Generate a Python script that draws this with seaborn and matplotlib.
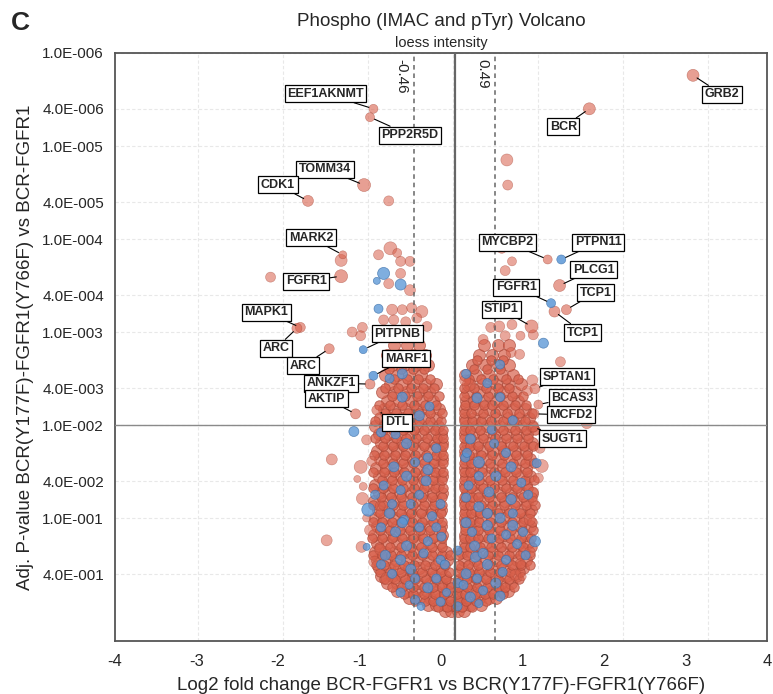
import numpy as np
import pandas as pd
import seaborn as sns
import matplotlib.pyplot as plt

# colours
RED = '#D8604B'
RED_EDGE = '#A84636'
BLUE = '#5B97D6'
BLUE_EDGE = '#3C70AA'

# ---------------- data (log2 fold change, -log10 adj. p) ----------------
# labelled sites
gene_names = ['GRB2', 'BCR', 'EEF1AKNMT', 'PPP2R5D', 'TOMM34', 'CDK1', 'MARK2',
              'FGFR1', 'MAPK1', 'ARC', 'ARC', 'PITPNB', 'MARF1', 'ANKZF1', 'AKTIP',
              'DTL', 'MYCBP2', 'PTPN11', 'PLCG1', 'FGFR1', 'TCP1', 'TCP1', 'STIP1',
              'SPTAN1', 'BCAS3', 'MCFD2', 'SUGT1']
gene_fc = [2.82, 1.60, -0.94, -0.98, -1.05, -1.71, -1.30, -1.32, -1.80, -1.84,
           -1.46, -1.06, -0.94, -0.98, -1.15, -0.90, 1.11, 1.27, 1.25, 1.15, 1.33,
           1.19, 0.92, 0.96, 1.00, 0.95, 0.94]
gene_nlp = [5.76, 5.40, 5.40, 5.31, 4.58, 4.41, 3.83, 3.60, 3.05, 3.04, 2.82,
            2.81, 2.53, 2.44, 2.12, 2.16, 3.78, 3.78, 3.50, 3.31, 3.24, 3.22, 3.06,
            2.39, 2.22, 2.12, 1.98]
gene_group = ['red', 'red', 'red', 'red', 'red', 'red', 'red', 'red', 'red', 'red',
              'red', 'blue', 'blue', 'red', 'red', 'red', 'red', 'blue', 'red', 'blue',
              'red', 'red', 'red', 'red', 'red', 'red', 'red']
gene_diam = [12, 12, 9, 9, 13, 11, 8, 13, 10, 10, 10, 8, 9, 10, 10, 10, 9, 9, 12, 9,
             10, 11, 13, 10, 9, 10, 10]
# label box offsets (px, y down)
label_dx = [29, -26, -48, 40, -39, -30, -32, -35, -34, -21, -26, 34, 33, -39, -29,
            20, -40, 37, 34, -35, 29, 28, -30, 32, 34, 37, 29]
label_dy = [19, 18, -15, 18, -16, -16, -17, 5, -15, 20, 17, -16, -17, -1, -15, 12,
            -17, -17, -16, -16, -17, 21, -17, -12, -7, 1, 12]

# unlabelled isolated sites (light)
out_fc = [-0.76, 0.63, 0.64, -1.32, -2.15, -0.88, -0.74, -0.62, -0.51, -0.66, -0.76,
          -0.62, -0.51, -0.72, -0.60, -0.49, -0.37, -0.82, -0.70, -0.56, -0.43, -0.31,
          -1.07, -1.19, -1.09, 0.57, 0.69, 0.61, 0.44, 0.54, 0.69, 0.79, 0.35, 0.61,
          0.68, 0.78, 0.94, 1.26, 0.93, 0.87, 1.57, 0.18, 0.14, -1.43, -1.09, -0.96,
          -1.13, -1.06, -1.07, -0.86, -1.02, -0.98, -1.49, -1.08, -0.93, -0.78, -1.02,
          1.04, 1.00, 0.94, 0.94, 0.90, 0.90, 0.79, 0.73, 0.81, 1.02, -0.86]
out_nlp = [4.41, 4.85, 4.58, 3.77, 3.59, 3.83, 3.90, 3.76, 3.76, 3.85, 3.52,
           3.63, 3.45, 3.24, 3.24, 3.26, 3.22, 3.13, 3.13, 3.11, 3.15, 3.06,
           3.05, 3.00, 2.96, 3.90, 3.76, 3.66, 3.05, 3.06, 3.08, 2.96, 2.92, 2.96,
           2.78, 2.76, 2.97, 2.68, 2.48, 2.37, 2.02, 2.43, 2.48, 1.63, 1.55, 1.61,
           1.42, 1.34, 1.21, 1.13, 1.00, 0.87, 0.76, 0.69, 0.53, 0.35, 1.84,
           1.56, 1.43, 1.28, 1.18, 0.98, 0.63, 0.51, 0.39, 0.37, 1.75, 0.66]
out_diam = [10, 12, 10, 12, 10, 10, 13, 10, 10, 9, 10, 10, 11, 11, 10, 10, 12, 10,
            10, 10, 10, 10, 10, 10, 10, 10, 9, 10, 10, 11, 10, 9, 10, 10, 10, 10,
            10, 10, 11, 10, 11, 13, 11, 11, 13, 10, 7, 8, 12, 10, 8, 11, 11, 11, 11,
            12, 10, 13, 10, 10, 9, 11, 11, 10, 11, 8, 10, 11]

# dense volcano body, one row per -log10 p level (larger sites)
cloud_nlp = [0.00, 0.07, 0.14, 0.22, 0.30, 0.38, 0.46, 0.55, 0.64, 0.73, 0.82,
             0.91, 1.00, 1.09, 1.18, 1.27, 1.36, 1.45, 1.54, 1.63, 1.72, 1.81,
             1.90, 1.99, 2.08, 2.17, 2.26, 2.35, 2.44, 2.54, 2.64, 2.75, 2.86]
cloud_fc = [
    [-0.10, -0.03, 0.06, 0.13],
    [-0.30, -0.20, -0.10, 0.00, 0.10, 0.20, 0.32],
    [-0.52, -0.40, -0.28, -0.16, -0.06, 0.08, 0.18, 0.30, 0.42, 0.50],
    [-0.66, -0.55, -0.43, -0.31, -0.20, -0.08, 0.10, 0.21, 0.33, 0.45, 0.57, 0.64],
    [-0.78, -0.66, -0.53, -0.41, -0.28, -0.15, -0.05, 0.09, 0.20, 0.31, 0.44, 0.56, 0.68],
    [-0.85, -0.72, -0.60, -0.47, -0.34, -0.22, -0.10, 0.12, 0.24, 0.37, 0.50, 0.62, 0.74],
    [-0.88, -0.76, -0.64, -0.52, -0.40, -0.27, -0.13, 0.10, 0.22, 0.34, 0.47, 0.60, 0.72, 0.82],
    [-0.90, -0.79, -0.67, -0.55, -0.43, -0.30, -0.17, -0.07, 0.12, 0.25, 0.38, 0.50, 0.63, 0.75, 0.86],
    [-0.92, -0.80, -0.69, -0.57, -0.45, -0.33, -0.20, -0.09, 0.10, 0.21, 0.34, 0.46, 0.58, 0.70, 0.83],
    [-0.90, -0.78, -0.66, -0.54, -0.41, -0.29, -0.16, 0.14, 0.25, 0.38, 0.51, 0.64, 0.77, 0.88],
    [-0.93, -0.82, -0.70, -0.58, -0.46, -0.34, -0.22, -0.13, 0.14, 0.24, 0.35, 0.47, 0.60, 0.72, 0.85],
    [-0.90, -0.78, -0.66, -0.53, -0.40, -0.27, -0.15, 0.15, 0.26, 0.40, 0.53, 0.66, 0.79, 0.90],
    [-0.92, -0.81, -0.69, -0.57, -0.45, -0.32, -0.19, 0.14, 0.22, 0.33, 0.46, 0.59, 0.72, 0.84],
    [-0.89, -0.77, -0.64, -0.51, -0.38, -0.25, -0.14, 0.15, 0.27, 0.40, 0.53, 0.67, 0.80, 0.91],
    [-0.93, -0.82, -0.70, -0.58, -0.45, -0.32, -0.20, 0.14, 0.24, 0.35, 0.48, 0.61, 0.74, 0.87],
    [-0.88, -0.76, -0.63, -0.50, -0.37, -0.24, -0.13, 0.16, 0.28, 0.41, 0.55, 0.68, 0.81, 0.92],
    [-0.92, -0.80, -0.68, -0.56, -0.43, -0.30, -0.18, 0.14, 0.23, 0.34, 0.47, 0.60, 0.73, 0.86],
    [-0.87, -0.74, -0.61, -0.49, -0.36, -0.23, -0.13, 0.15, 0.27, 0.41, 0.54, 0.67, 0.80, 0.90],
    [-0.91, -0.79, -0.67, -0.55, -0.42, -0.29, -0.17, 0.14, 0.22, 0.33, 0.46, 0.59, 0.72, 0.85],
    [-0.86, -0.73, -0.60, -0.48, -0.35, -0.22, -0.13, 0.15, 0.26, 0.39, 0.52, 0.66, 0.79, 0.90],
    [-0.90, -0.78, -0.66, -0.54, -0.41, -0.28, -0.16, 0.14, 0.23, 0.34, 0.47, 0.60, 0.73, 0.85],
    [-0.85, -0.72, -0.60, -0.47, -0.34, -0.22, -0.13, 0.16, 0.28, 0.42, 0.55, 0.68, 0.80, 0.92],
    [-0.88, -0.76, -0.63, -0.50, -0.38, -0.25, -0.14, 0.14, 0.23, 0.35, 0.48, 0.62, 0.75, 0.87],
    [-0.92, -0.80, -0.67, -0.55, -0.43, -0.30, -0.18, 0.15, 0.27, 0.40, 0.54, 0.67, 0.80, 0.92],
    [-0.86, -0.74, -0.60, -0.47, -0.34, -0.20, 0.14, 0.24, 0.36, 0.50, 0.64, 0.77, 0.89],
    [-0.82, -0.70, -0.56, -0.43, -0.30, -0.17, 0.14, 0.28, 0.42, 0.56, 0.70, 0.84],
    [-0.78, -0.64, -0.50, -0.37, -0.24, 0.15, 0.24, 0.36, 0.50, 0.63, 0.76],
    [-0.84, -0.70, -0.56, -0.42, -0.29, 0.16, 0.30, 0.44, 0.58, 0.72],
    [-0.75, -0.60, -0.47, -0.33, -0.20, 0.20, 0.35, 0.50, 0.64, 0.80],
    [-0.80, -0.66, -0.52, -0.38, 0.14, 0.27, 0.42, 0.57, 0.70],
    [-0.72, -0.58, -0.44, -0.30, 0.22, 0.37, 0.52, 0.66],
    [-0.78, -0.63, -0.47, -0.33, 0.30, 0.45, 0.60],
    [-0.70, -0.55, -0.40, 0.36, 0.52, 0.66],
]

# in-between rows (smaller sites)
cloud2_nlp = [0.04, 0.11, 0.18, 0.26, 0.34, 0.42, 0.50, 0.60, 0.69, 0.78, 0.87,
              0.96, 1.05, 1.14, 1.23, 1.32, 1.41, 1.50, 1.59, 1.68, 1.77, 1.86,
              1.95, 2.04, 2.13, 2.22, 2.31, 2.40, 2.50, 2.60, 2.70]
cloud2_fc = [
    [-0.18, -0.07, 0.03, 0.10, 0.22],
    [-0.45, -0.33, -0.24, -0.13, -0.04, 0.05, 0.15, 0.27, 0.38],
    [-0.58, -0.47, -0.35, -0.22, -0.11, 0.04, 0.14, 0.25, 0.37, 0.47, 0.58],
    [-0.72, -0.60, -0.47, -0.35, -0.24, -0.13, -0.03, 0.06, 0.16, 0.28, 0.40, 0.52, 0.61, 0.71],
    [-0.81, -0.69, -0.57, -0.45, -0.32, -0.20, -0.09, 0.06, 0.16, 0.27, 0.39, 0.52, 0.66, 0.77],
    [-0.86, -0.74, -0.61, -0.49, -0.37, -0.25, -0.14, -0.05, 0.07, 0.18, 0.30, 0.43, 0.55, 0.67, 0.79],
    [-0.91, -0.82, -0.70, -0.58, -0.46, -0.33, -0.21, -0.10, 0.07, 0.17, 0.29, 0.42, 0.56, 0.69, 0.80, 0.90],
    [-0.95, -0.84, -0.73, -0.61, -0.49, -0.37, -0.25, -0.13, -0.04, 0.07, 0.16, 0.28, 0.41, 0.53, 0.66, 0.78, 0.90],
    [-0.87, -0.75, -0.62, -0.50, -0.38, -0.25, -0.13, 0.13, 0.20, 0.31, 0.44, 0.56, 0.69, 0.82, 0.93],
    [-0.96, -0.84, -0.72, -0.60, -0.48, -0.36, -0.24, -0.13, 0.13, 0.20, 0.29, 0.41, 0.54, 0.67, 0.80, 0.91],
    [-0.86, -0.75, -0.63, -0.51, -0.39, -0.27, -0.14, 0.14, 0.22, 0.29, 0.42, 0.55, 0.68, 0.81, 0.94],
    [-0.95, -0.84, -0.72, -0.61, -0.49, -0.37, -0.24, -0.13, 0.13, 0.20, 0.30, 0.43, 0.56, 0.69, 0.82, 0.93],
    [-0.86, -0.74, -0.62, -0.50, -0.38, -0.26, -0.14, 0.13, 0.21, 0.31, 0.40, 0.53, 0.66, 0.78, 0.90],
    [-0.95, -0.83, -0.71, -0.59, -0.47, -0.35, -0.23, -0.13, 0.13, 0.20, 0.33, 0.46, 0.60, 0.73, 0.86, 0.96],
    [-0.85, -0.73, -0.61, -0.49, -0.37, -0.25, -0.13, 0.13, 0.22, 0.29, 0.42, 0.56, 0.69, 0.82, 0.93],
    [-0.94, -0.83, -0.71, -0.59, -0.46, -0.34, -0.22, -0.12, 0.13, 0.21, 0.35, 0.48, 0.62, 0.75, 0.88],
    [-0.84, -0.72, -0.60, -0.48, -0.36, -0.24, -0.13, 0.13, 0.21, 0.30, 0.43, 0.57, 0.70, 0.84, 0.95],
    [-0.94, -0.82, -0.70, -0.58, -0.45, -0.33, -0.21, -0.12, 0.13, 0.20, 0.34, 0.48, 0.61, 0.74, 0.87],
    [-0.83, -0.71, -0.59, -0.47, -0.35, -0.23, -0.12, 0.13, 0.21, 0.30, 0.43, 0.57, 0.70, 0.84, 0.95],
    [-0.93, -0.81, -0.69, -0.57, -0.45, -0.32, -0.20, -0.12, 0.13, 0.19, 0.33, 0.46, 0.60, 0.74, 0.87],
    [-0.83, -0.71, -0.59, -0.47, -0.35, -0.22, -0.12, 0.13, 0.20, 0.29, 0.42, 0.56, 0.70, 0.83, 0.94],
    [-0.92, -0.80, -0.68, -0.56, -0.44, -0.31, -0.19, -0.12, 0.13, 0.21, 0.35, 0.49, 0.62, 0.75, 0.88],
    [-0.83, -0.71, -0.59, -0.46, -0.34, -0.22, -0.12, 0.13, 0.20, 0.31, 0.45, 0.59, 0.72, 0.85, 0.96],
    [-0.92, -0.79, -0.66, -0.53, -0.40, -0.27, -0.14, 0.13, 0.22, 0.33, 0.44, 0.58, 0.71, 0.84],
    [-0.80, -0.67, -0.53, -0.40, -0.27, -0.13, 0.13, 0.21, 0.35, 0.49, 0.63, 0.77, 0.92],
    [-0.88, -0.74, -0.60, -0.46, -0.33, -0.20, 0.14, 0.24, 0.36, 0.45, 0.59, 0.73, 0.86],
    [-0.72, -0.57, -0.43, -0.30, -0.17, 0.13, 0.27, 0.41, 0.55, 0.69, 0.82],
    [-0.80, -0.65, -0.50, -0.36, -0.23, 0.13, 0.24, 0.38, 0.52, 0.66],
    [-0.70, -0.55, -0.41, -0.27, 0.18, 0.32, 0.47, 0.62, 0.76],
    [-0.76, -0.61, -0.47, -0.34, 0.24, 0.40, 0.55],
    [-0.66, -0.51, -0.37, 0.28, 0.44, 0.59],
]

# blue (pTyr) sites inside the body
blue_fc = [-0.62, -0.45, -0.30, -0.15, 0.05, 0.20, 0.35, 0.50, -0.72, -0.50, -0.20,
           0.15, 0.40, 0.62, -0.80, -0.55, -0.35, 0.25, 0.45, 0.75, -0.68, -0.40,
           -0.14, 0.15, 0.55, 0.82, -0.75, -0.50, -0.25, 0.30, 0.68, -0.62, -0.32,
           0.18, 0.50, 0.80, -0.70, -0.45, 0.30, 0.62, -0.55, -0.20, 0.20, 0.45,
           -0.72, -0.40, 0.70, -0.60, 0.28, 0.15, -0.75, -0.50, 0.55, -1.17, -0.92,
           -1.00, -1.02, 0.98, 0.96, -0.82, -0.88, -0.62, -0.90, 1.06, 0.55, 0.26,
           -0.85, 0.05, -0.30, 0.40, -0.58, 0.14, 0.70, -0.15,
           -0.38, -0.08, 0.30, 0.12, -0.52, -0.85, -0.62, -0.10, 0.05, 0.35, 0.58,
           0.85, -0.30, -0.60, -0.85, 0.22, 0.40, 0.70, -0.40, -0.15, 0.15, 0.42,
           -0.82, -0.55, 0.30, 0.68, -0.30, 0.16, 0.48, -0.68, 0.88, -0.28, 0.55,
           -0.60, 0.40, -0.45, 0.28, -0.20, 0.62, -0.72]
blue_nlp = [0.20, 0.12, 0.25, 0.10, 0.05, 0.15, 0.22, 0.30, 0.40, 0.45, 0.35,
            0.40, 0.50, 0.55, 0.60, 0.70, 0.62, 0.70, 0.78, 0.72, 0.85, 0.90,
            0.80, 0.95, 1.00, 0.85, 1.05, 1.15, 1.02, 1.12, 1.20, 1.30, 1.40,
            1.35, 1.45, 1.38, 1.55, 1.60, 1.60, 1.70, 1.80, 1.75, 1.85, 1.95,
            2.00, 2.10, 2.05, 2.30, 2.29, 2.55, 2.50, 2.70, 2.65, 1.93, 1.25,
            1.09, 0.69, 1.59, 0.75, 3.63, 3.25, 3.51, 3.55, 2.88, 0.16, 0.58,
            1.92, 0.30, 1.52, 1.05, 0.98, 1.65, 0.92, 0.55,
            0.05, 0.20, 0.08, 0.28, 0.28, 0.50, 0.55, 0.50, 0.65, 0.62, 0.42,
            0.60, 0.75, 0.95, 0.90, 0.85, 0.92, 1.05, 1.25, 1.15, 1.22, 1.28,
            1.35, 1.45, 1.45, 1.55, 1.65, 1.70, 1.80, 1.90, 1.25, 2.20, 2.30,
            2.55, 2.45, 0.35, 0.35, 0.90, 0.82, 1.15]
blue_diam = [9, 9, 10, 9, 9, 10, 9, 10, 9, 10, 9, 10, 10, 9, 10, 10, 9, 10, 9, 9,
             10, 9, 9, 10, 10, 9, 10, 9, 9, 10, 10, 9, 10, 9, 10, 9, 10, 9, 11, 9,
             10, 9, 10, 9, 10, 10, 9, 10, 10, 9, 9, 10, 9, 10, 9, 13, 7, 9, 11, 12,
             9, 11, 7, 10, 10, 10, 9, 9, 10, 10, 9, 9, 10, 9,
             8, 8, 8, 9, 8, 9, 10, 9, 9, 10, 9, 9, 9, 10, 9, 9, 10, 9, 9, 9, 9, 10,
             9, 10, 9, 10, 9, 9, 9, 9, 9, 9, 9, 10, 9, 9, 9, 9, 9, 9]

x_ticklabels = ['-4', '-3', '-2', '-1', '0', '1', '2', '3', '4']
y_ticks = [1e-6, 4e-6, 1e-5, 4e-5, 1e-4, 4e-4, 1e-3, 4e-3, 1e-2, 4e-2, 1e-1, 4e-1]
y_ticklabels = ['1.0E-006', '4.0E-006', '1.0E-005', '4.0E-005', '1.0E-004',
                '4.0E-004', '1.0E-003', '4.0E-003', '1.0E-002', '4.0E-002',
                '1.0E-001', '4.0E-001']
fc_low, fc_high, fc_mid = -0.46, 0.49, 0.015


def pt(d):
    # marker diameter in px -> scatter size in pt^2
    return (np.asarray(d) * 0.72) ** 2


def rows_to_frame(levels, rows):
    df = pd.DataFrame({'fc': [x for row in rows for x in row],
                       'nlp': [l for l, row in zip(levels, rows) for _ in row]})
    df['p'] = 10 ** -df['nlp']
    return df


cloud = rows_to_frame(cloud_nlp, cloud_fc)
cloud2 = rows_to_frame(cloud2_nlp, cloud2_fc)
outl = pd.DataFrame({'fc': out_fc, 'p': 10 ** -np.array(out_nlp), 'd': out_diam})
blue = pd.DataFrame({'fc': blue_fc, 'p': 10 ** -np.array(blue_nlp), 'd': blue_diam})
genes = pd.DataFrame({'name': gene_names, 'fc': gene_fc, 'p': 10 ** -np.array(gene_nlp),
                      'grp': gene_group, 'd': gene_diam})

sns.set_style('white')
plt.rcParams['font.family'] = ['Liberation Sans', 'DejaVu Sans']

fig = plt.figure(figsize=(7.73, 6.94), dpi=100)
ax = fig.add_axes([115 / 773, 1 - 641 / 694, 652 / 773, 588 / 694])

ax.set_yscale('log')

sns.scatterplot(data=cloud, x='fc', y='p', s=pt(12), color=RED, alpha=0.7,
                edgecolor=RED_EDGE, linewidth=0.6, ax=ax, zorder=3)
sns.scatterplot(data=cloud2, x='fc', y='p', s=pt(9.5), color=RED, alpha=0.75,
                edgecolor=RED_EDGE, linewidth=0.6, ax=ax, zorder=3)
sns.scatterplot(data=outl, x='fc', y='p', s=pt(outl['d']), color=RED, alpha=0.55,
                edgecolor=RED_EDGE, linewidth=0.4, ax=ax, zorder=3)
sns.scatterplot(data=blue, x='fc', y='p', s=pt(blue['d']), color=BLUE, alpha=0.78,
                edgecolor=BLUE_EDGE, linewidth=0.5, ax=ax, zorder=4)
gr = genes[genes.grp == 'red']
gb = genes[genes.grp == 'blue']
sns.scatterplot(data=gr, x='fc', y='p', s=pt(gr['d']), color=RED, alpha=0.6,
                edgecolor=RED_EDGE, linewidth=0.4, ax=ax, zorder=5)
sns.scatterplot(data=gb, x='fc', y='p', s=pt(gb['d']), color=BLUE, alpha=0.85,
                edgecolor=BLUE_EDGE, linewidth=0.4, ax=ax, zorder=5)

# labels with leader lines
for i, row in genes.iterrows():
    ax.annotate(row['name'], xy=(row['fc'], row['p']),
                xytext=(label_dx[i] * 0.72, -label_dy[i] * 0.72), textcoords='offset points',
                ha='center', va='center', fontsize=9, fontweight='bold', zorder=8,
                bbox=dict(boxstyle='square,pad=0.2', fc='white', ec='black', lw=0.9),
                arrowprops=dict(arrowstyle='-', color='black', lw=0.8,
                                shrinkA=0, shrinkB=3.5))

# reference lines
ax.axvline(fc_mid, color='#666666', lw=1.6, zorder=6)
ax.axvline(fc_low, color='#666666', lw=1.1, ls=(0, (3, 2.5)), zorder=6)
ax.axvline(fc_high, color='#666666', lw=1.1, ls=(0, (3, 2.5)), zorder=6)
ax.axhline(0.01, color='#8a8a8a', lw=1.0, zorder=6)
for v, s in [(fc_low, '-0.46'), (fc_high, '0.49')]:
    ax.annotate(s, xy=(v, 1), xycoords=('data', 'axes fraction'), xytext=(-4, -4),
                textcoords='offset points', rotation=-90, ha='right', va='top',
                fontsize=11, zorder=7)

# axes
ax.set_xlim(-3.98, 3.69)
ax.set_ylim(2.1, 1e-6)
ax.set_xticks(np.linspace(-3.98, 3.69, 9))
ax.set_xticklabels(x_ticklabels, fontsize=12)
ax.set_xticks(np.arange(-3, 4), minor=True)
ax.set_yticks(y_ticks)
ax.set_yticklabels(y_ticklabels, fontsize=11)
ax.yaxis.set_minor_locator(plt.NullLocator())
ax.tick_params(which='both', length=0)
ax.tick_params(axis='y', pad=8)
ax.tick_params(axis='x', pad=9)
ax.grid(False)
ax.grid(True, which='minor', axis='x', color='#e8e8e8', lw=0.8, ls=(0, (3, 2)))
ax.grid(True, which='major', axis='y', color='#e8e8e8', lw=0.8, ls=(0, (3, 2)))
ax.set_axisbelow(True)
for sp in ax.spines.values():
    sp.set_color('#555555')
    sp.set_linewidth(1.3)

ax.set_xlabel('Log2 fold change BCR-FGFR1 vs BCR(Y177F)-FGFR1(Y766F)', fontsize=13.5,
              labelpad=6)
ax.set_ylabel('Adj. P-value BCR(Y177F)-FGFR1(Y766F) vs BCR-FGFR1', fontsize=13.5,
              labelpad=6)

fig.text(441 / 773, 1 - 22 / 694, 'Phospho (IMAC and pTyr) Volcano', ha='center',
         va='center', fontsize=13.5)
fig.text(441 / 773, 1 - 43 / 694, 'loess intensity', ha='center', va='center',
         fontsize=10.5)
fig.text(20 / 773, 1 - 23 / 694, 'C', ha='center', va='center', fontsize=19,
         fontweight='bold')

fig.savefig('out.png', dpi=100)
